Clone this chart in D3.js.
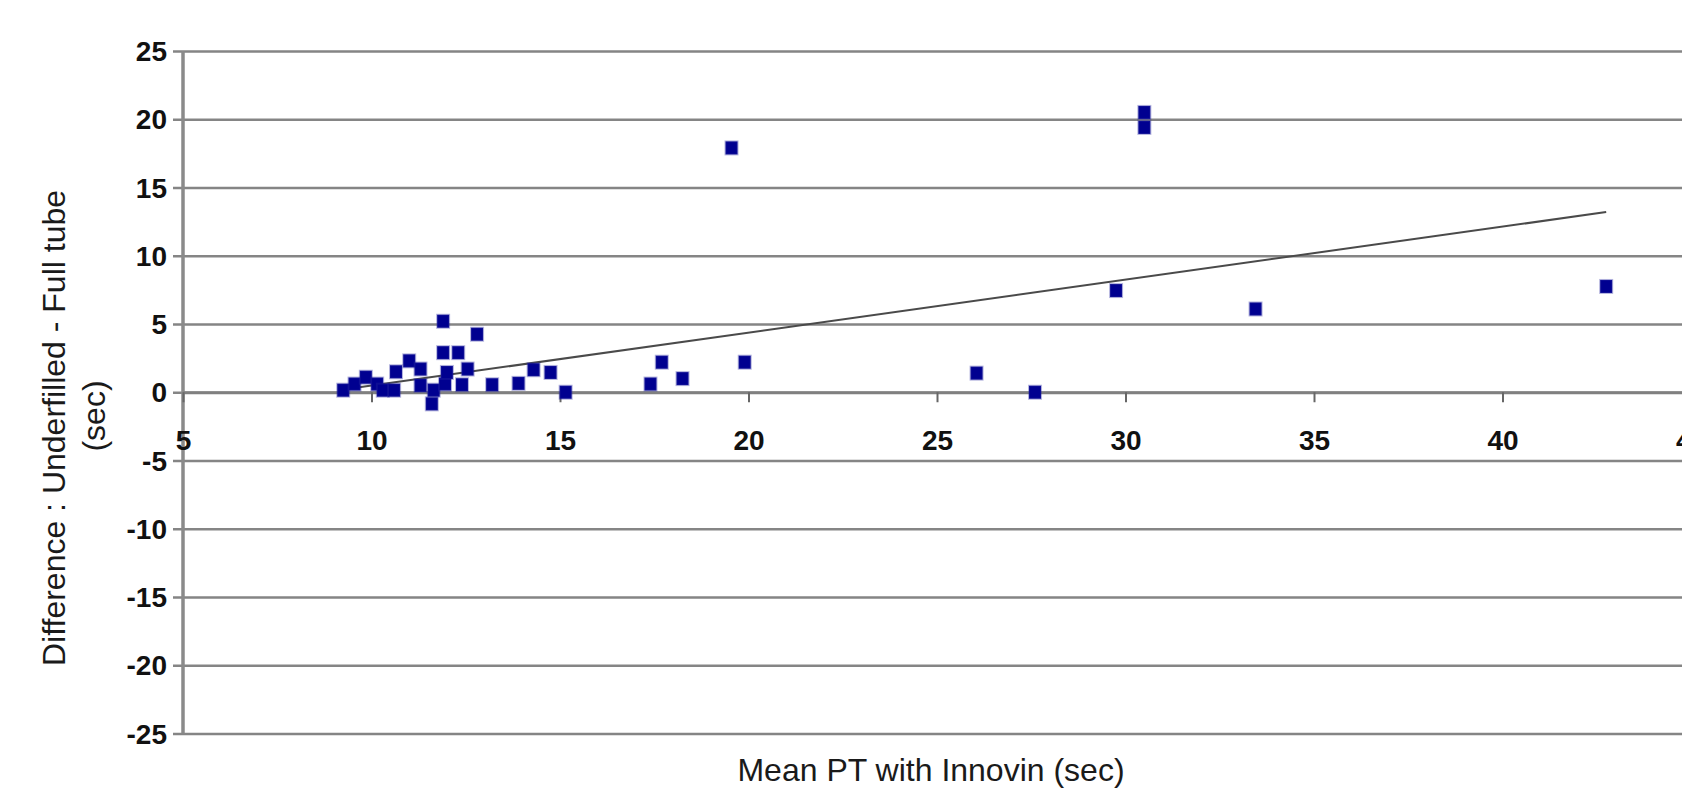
<!DOCTYPE html>
<html lang="en">
<head>
    <meta charset="UTF-8">
    <title>Mean PT with Innovin - difference plot</title>
    <script src="https://d3js.org/d3.v7.min.js"></script>

    <style>
        body {
            margin: 0;
            background: #fff;
            font-family: "Liberation Sans", Arial, sans-serif;
        }

        svg {
            display: block;
        }

        .tick text {
            font-weight: bold;
            font-size: 28px;
            fill: #111;
        }

        .axis-title {
            font-size: 32px;
            fill: #1a1a1a;
        }
    </style>
</head>
<body>

    <div id="container"></div>

    <script>

        // mean PT with Innovin (sec)
        const meanPT = [
            9.25, 9.55, 9.85, 10.15, 10.3, 10.6, 10.65, 11.0, 11.3, 11.3,
            11.65, 11.6, 11.95, 12.0, 11.9, 11.9, 12.3, 12.55, 12.4, 12.8,
            13.2, 13.9, 14.3, 14.75, 15.15, 17.4, 17.7, 18.25, 19.55, 19.9,
            26.05, 27.6, 29.75, 30.5, 30.5, 33.45, 42.75
        ];

        // difference underfilled - full tube (sec)
        const difference = [
            0.15, 0.6, 1.1, 0.6, 0.15, 0.15, 1.5, 2.3, 1.7, 0.5,
            0.15, -0.85, 0.6, 1.45, 5.2, 2.9, 2.9, 1.7, 0.55, 4.25,
            0.55, 0.65, 1.65, 1.45, 0.0, 0.6, 2.2, 1.0, 17.9, 2.2,
            1.4, 0.0, 7.45, 20.5, 19.4, 6.1, 7.75
        ];

        // trend line end points
        const trendX = [9.25, 42.75];
        const trendY = [0.2, 13.2];

        const xTicks = [5, 10, 15, 20, 25, 30, 35, 40, 45];
        const yTicks = [-25, -20, -15, -10, -5, 0, 5, 10, 15, 20, 25];

        const width = 1682;
        const height = 796;

        const svg = d3.select('#container')
            .append('svg')
            .attr('width', width)
            .attr('height', height);

        // scales (the x axis runs past the right edge, like the cropped original)
        const x = d3.scaleLinear()
            .domain([5, 45])
            .range([183, 1691]);

        const y = d3.scaleLinear()
            .domain([-25, 25])
            .range([733.5, 51]);

        // plain hyphen for negatives, as in the original
        const fmt = d => String(d);

        // horizontal gridlines + y labels
        const yAxis = svg.append('g')
            .attr('transform', 'translate(173,0)')
            .call(d3.axisLeft(y)
                .tickValues(yTicks)
                .tickFormat(fmt)
                .tickSizeInner(-(width - 173))
                .tickSizeOuter(0)
                .tickPadding(6));

        yAxis.select('.domain').remove();
        yAxis.selectAll('.tick line')
            .attr('stroke', '#858585')
            .attr('stroke-width', 2.5);
        yAxis.selectAll('.tick text')
            .attr('dy', '0.34em');

        // vertical axis line
        svg.append('line')
            .attr('x1', x(5))
            .attr('x2', x(5))
            .attr('y1', y(25))
            .attr('y2', y(-25))
            .attr('stroke', '#8a8a8a')
            .attr('stroke-width', 3.5);

        // x axis sits on y = 0
        const xAxis = svg.append('g')
            .attr('transform', 'translate(0,' + y(0) + ')')
            .call(d3.axisBottom(x)
                .tickValues(xTicks)
                .tickFormat(fmt)
                .tickSizeInner(10)
                .tickSizeOuter(0)
                .tickPadding(28));

        xAxis.select('.domain')
            .attr('stroke', '#808080')
            .attr('stroke-width', 3);
        xAxis.selectAll('.tick line')
            .attr('stroke', '#666')
            .attr('stroke-width', 2);

        // trend line
        svg.append('line')
            .attr('x1', x(trendX[0]))
            .attr('y1', y(trendY[0]))
            .attr('x2', x(trendX[1]))
            .attr('y2', y(trendY[1]))
            .attr('stroke', '#4a4a4a')
            .attr('stroke-width', 2);

        // square markers
        const points = meanPT.map((d, i) => ({x: d, y: difference[i]}));

        svg.selectAll('rect.pt')
            .data(points)
            .enter()
            .append('rect')
            .attr('class', 'pt')
            .attr('x', d => x(d.x) - 6)
            .attr('y', d => y(d.y) - 6.5)
            .attr('width', 12)
            .attr('height', 13)
            .attr('fill', '#000090')
            .attr('stroke', 'rgba(40,40,160,0.35)')
            .attr('stroke-width', 2);

        // axis titles
        svg.append('text')
            .attr('class', 'axis-title')
            .attr('x', 931)
            .attr('y', 770)
            .attr('text-anchor', 'middle')
            .attr('dominant-baseline', 'central')
            .text('Mean PT with Innovin (sec)');

        svg.append('text')
            .attr('class', 'axis-title')
            .attr('transform', 'translate(54,428) rotate(-90)')
            .attr('text-anchor', 'middle')
            .attr('dominant-baseline', 'central')
            .text('Difference : Underfilled - Full tube');

        svg.append('text')
            .attr('class', 'axis-title')
            .attr('transform', 'translate(94,416) rotate(-90)')
            .attr('text-anchor', 'middle')
            .attr('dominant-baseline', 'central')
            .text('(sec)');

    </script>

</body>
</html>
